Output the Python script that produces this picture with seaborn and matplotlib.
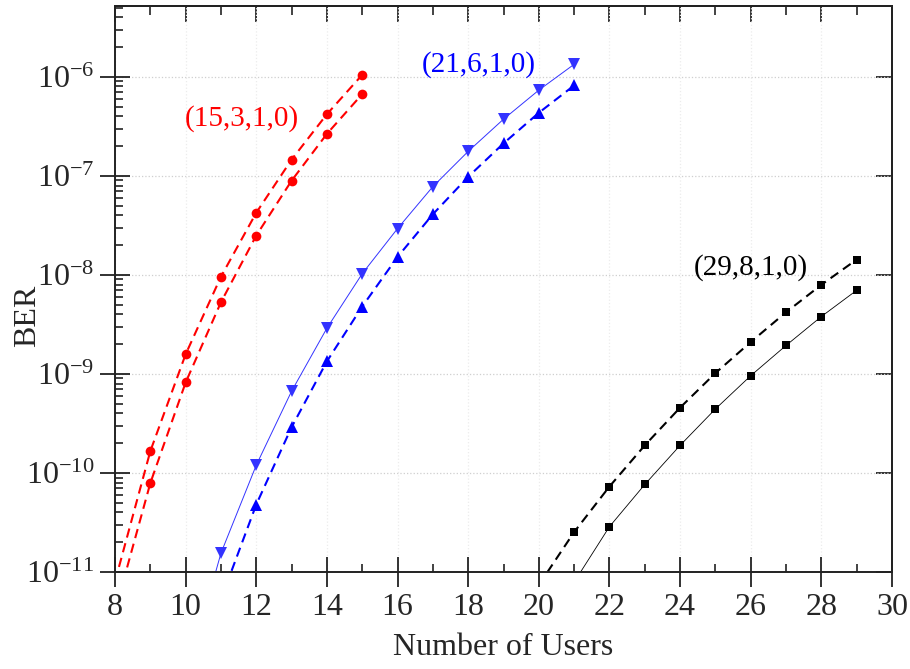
import numpy as np
import pandas as pd
import matplotlib
matplotlib.use("Agg")
import matplotlib.pyplot as plt
import matplotlib.ticker as mticker
import seaborn as sns

# ---- data ----
users_red = [8, 9, 10, 11, 12, 13, 14, 15]
ber_red_upper = [8.0e-12, 1.66e-10, 1.58e-9, 9.6e-9, 4.25e-8, 1.46e-7, 4.2e-7, 1.05e-6]
ber_red_lower = [4.0e-12, 7.9e-11, 8.2e-10, 5.3e-9, 2.5e-8, 8.95e-8, 2.66e-7, 6.7e-7]

users_blue = [10, 11, 12, 13, 14, 15, 16, 17, 18, 19, 20, 21]
ber_blue_solid = [8.3e-13, 1.55e-11, 1.2e-10, 6.7e-10, 2.9e-9, 1.03e-8, 2.94e-8, 7.8e-8,
                  1.77e-7, 3.74e-7, 7.35e-7, 1.34e-6]
ber_blue_dashed = [None, 5.3e-12, 4.8e-11, 2.9e-10, 1.34e-9, 4.8e-9, 1.52e-8, 4.1e-8,
                   9.8e-8, 2.13e-7, 4.34e-7, 8.2e-7]

users_black_dashed = [20, 21, 22, 23, 24, 25, 26, 27, 28, 29]
ber_black_dashed = [7.4e-12, 2.53e-11, 7.3e-11, 1.9e-10, 4.57e-10, 1.02e-9, 2.1e-9,
                    4.2e-9, 7.95e-9, 1.43e-8]
users_black_solid = [21, 22, 23, 24, 25, 26, 27, 28, 29]
ber_black_solid = [7.9e-12, 2.87e-11, 7.65e-11, 1.9e-10, 4.43e-10, 9.6e-10, 1.94e-9,
                   3.8e-9, 7.0e-9]

labels = ["(15,3,1,0)", "(21,6,1,0)", "(29,8,1,0)"]
label_pos = [(9.98, 10 ** -6.42), (16.69, 10 ** -5.879), (24.38, 10 ** -7.928)]
label_colors = ["#ff0000", "#0000ff", "#000000"]

x_ticks = list(range(8, 31, 2))
y_ticks = [1e-11, 1e-10, 1e-9, 1e-8, 1e-7, 1e-6]

# ---- style ----
sns.set_style("ticks")
plt.rcParams["font.family"] = ["Liberation Serif", "DejaVu Serif"]
plt.rcParams["mathtext.fontset"] = "custom"
plt.rcParams["mathtext.rm"] = "Liberation Serif"
plt.rcParams["mathtext.it"] = "Liberation Serif:italic"
plt.rcParams["mathtext.bf"] = "Liberation Serif:bold"

fig = plt.figure(figsize=(9.10, 6.69), dpi=100)
ax = fig.add_axes([115 / 910, 1 - 572 / 669, (892 - 115) / 910, (572 - 6) / 669])

dash = (0, (4.5, 2.8))

def draw(xs, ys, color, marker, ls, lw, ms):
    df = pd.DataFrame({"x": xs, "y": ys}).dropna()
    sns.lineplot(data=df, x="x", y="y", ax=ax, color=color, marker=marker,
                 linestyle=ls, linewidth=lw, markersize=ms, markeredgewidth=0,
                 estimator=None, sort=True)

draw(users_red, ber_red_upper, "#ff0000", "o", dash, 1.5, 7)
draw(users_red, ber_red_lower, "#ff0000", "o", dash, 1.5, 7)
draw(users_blue, ber_blue_solid, "#3333ff", "v", "-", 0.7, 8)
draw(users_blue, ber_blue_dashed, "#0000ff", "^", dash, 1.5, 8)
draw(users_black_dashed, ber_black_dashed, "#000000", "s", dash, 1.5, 6)
draw(users_black_solid, ber_black_solid, "#000000", "s", "-", 0.6, 6)

ax.set_yscale("log")
ax.set_xlim(8, 30)
ax.set_ylim(1e-11, 5.2e-6)

for txt, (tx, ty), c in zip(labels, label_pos, label_colors):
    ax.text(tx, ty, txt, color=c, fontsize=21, ha="left", va="center")

# grid
ax.grid(False)
ax.yaxis.grid(True, which="major", color="#cfcfcf", linestyle=":", linewidth=0.9)
ax.xaxis.grid(True, which="major", color="#ececec", linestyle=":", linewidth=0.9)
ax.set_axisbelow(True)

# ticks
ax.set_xticks(x_ticks)
ax.xaxis.set_minor_locator(mticker.MultipleLocator(1))
ax.yaxis.set_major_locator(mticker.FixedLocator(y_ticks))
ax.yaxis.set_minor_locator(mticker.LogLocator(base=10, subs=np.arange(2, 10), numticks=20))
ax.yaxis.set_minor_formatter(mticker.NullFormatter())
ax.yaxis.set_major_formatter(mticker.FuncFormatter(lambda v, p: r"$10^{%d}$" % round(np.log10(v))))

ax.tick_params(axis="both", which="major", direction="inout", length=21.6, width=1.3,
               labelsize=23, color="#222222", top=False, right=False)
ax.tick_params(axis="both", which="minor", direction="in", length=5.8, width=1.2,
               color="#222222", top=False, right=False)
ax.tick_params(axis="x", which="major", pad=4)
ax.tick_params(axis="y", which="major", pad=4)

for s in ax.spines.values():
    s.set_linewidth(1.4)
    s.set_color("#222222")

# top / right inward ticks
secx = ax.secondary_xaxis("top")
secx.set_xticks(x_ticks)
secx.xaxis.set_minor_locator(mticker.MultipleLocator(1))
secx.tick_params(which="major", direction="in", length=11.5, width=1.3, labeltop=False, color="#222222")
secx.tick_params(which="minor", direction="in", length=6.5, width=1.2, color="#222222")
secx.spines["top"].set_linewidth(1.4)

secy = ax.secondary_yaxis("right")
secy.yaxis.set_major_locator(mticker.FixedLocator(y_ticks))
secy.yaxis.set_minor_locator(mticker.NullLocator())
secy.tick_params(which="major", direction="in", length=11.5, width=1.3, labelright=False, color="#222222")
secy.spines["right"].set_linewidth(1.4)

ax.set_xlabel("Number of Users", fontsize=23)
ax.set_ylabel("BER", fontsize=23)
ax.xaxis.set_label_coords(0.5, -0.108)
ax.yaxis.set_label_coords(-0.094, 0.452)

fig.savefig("out.png", dpi=100)
